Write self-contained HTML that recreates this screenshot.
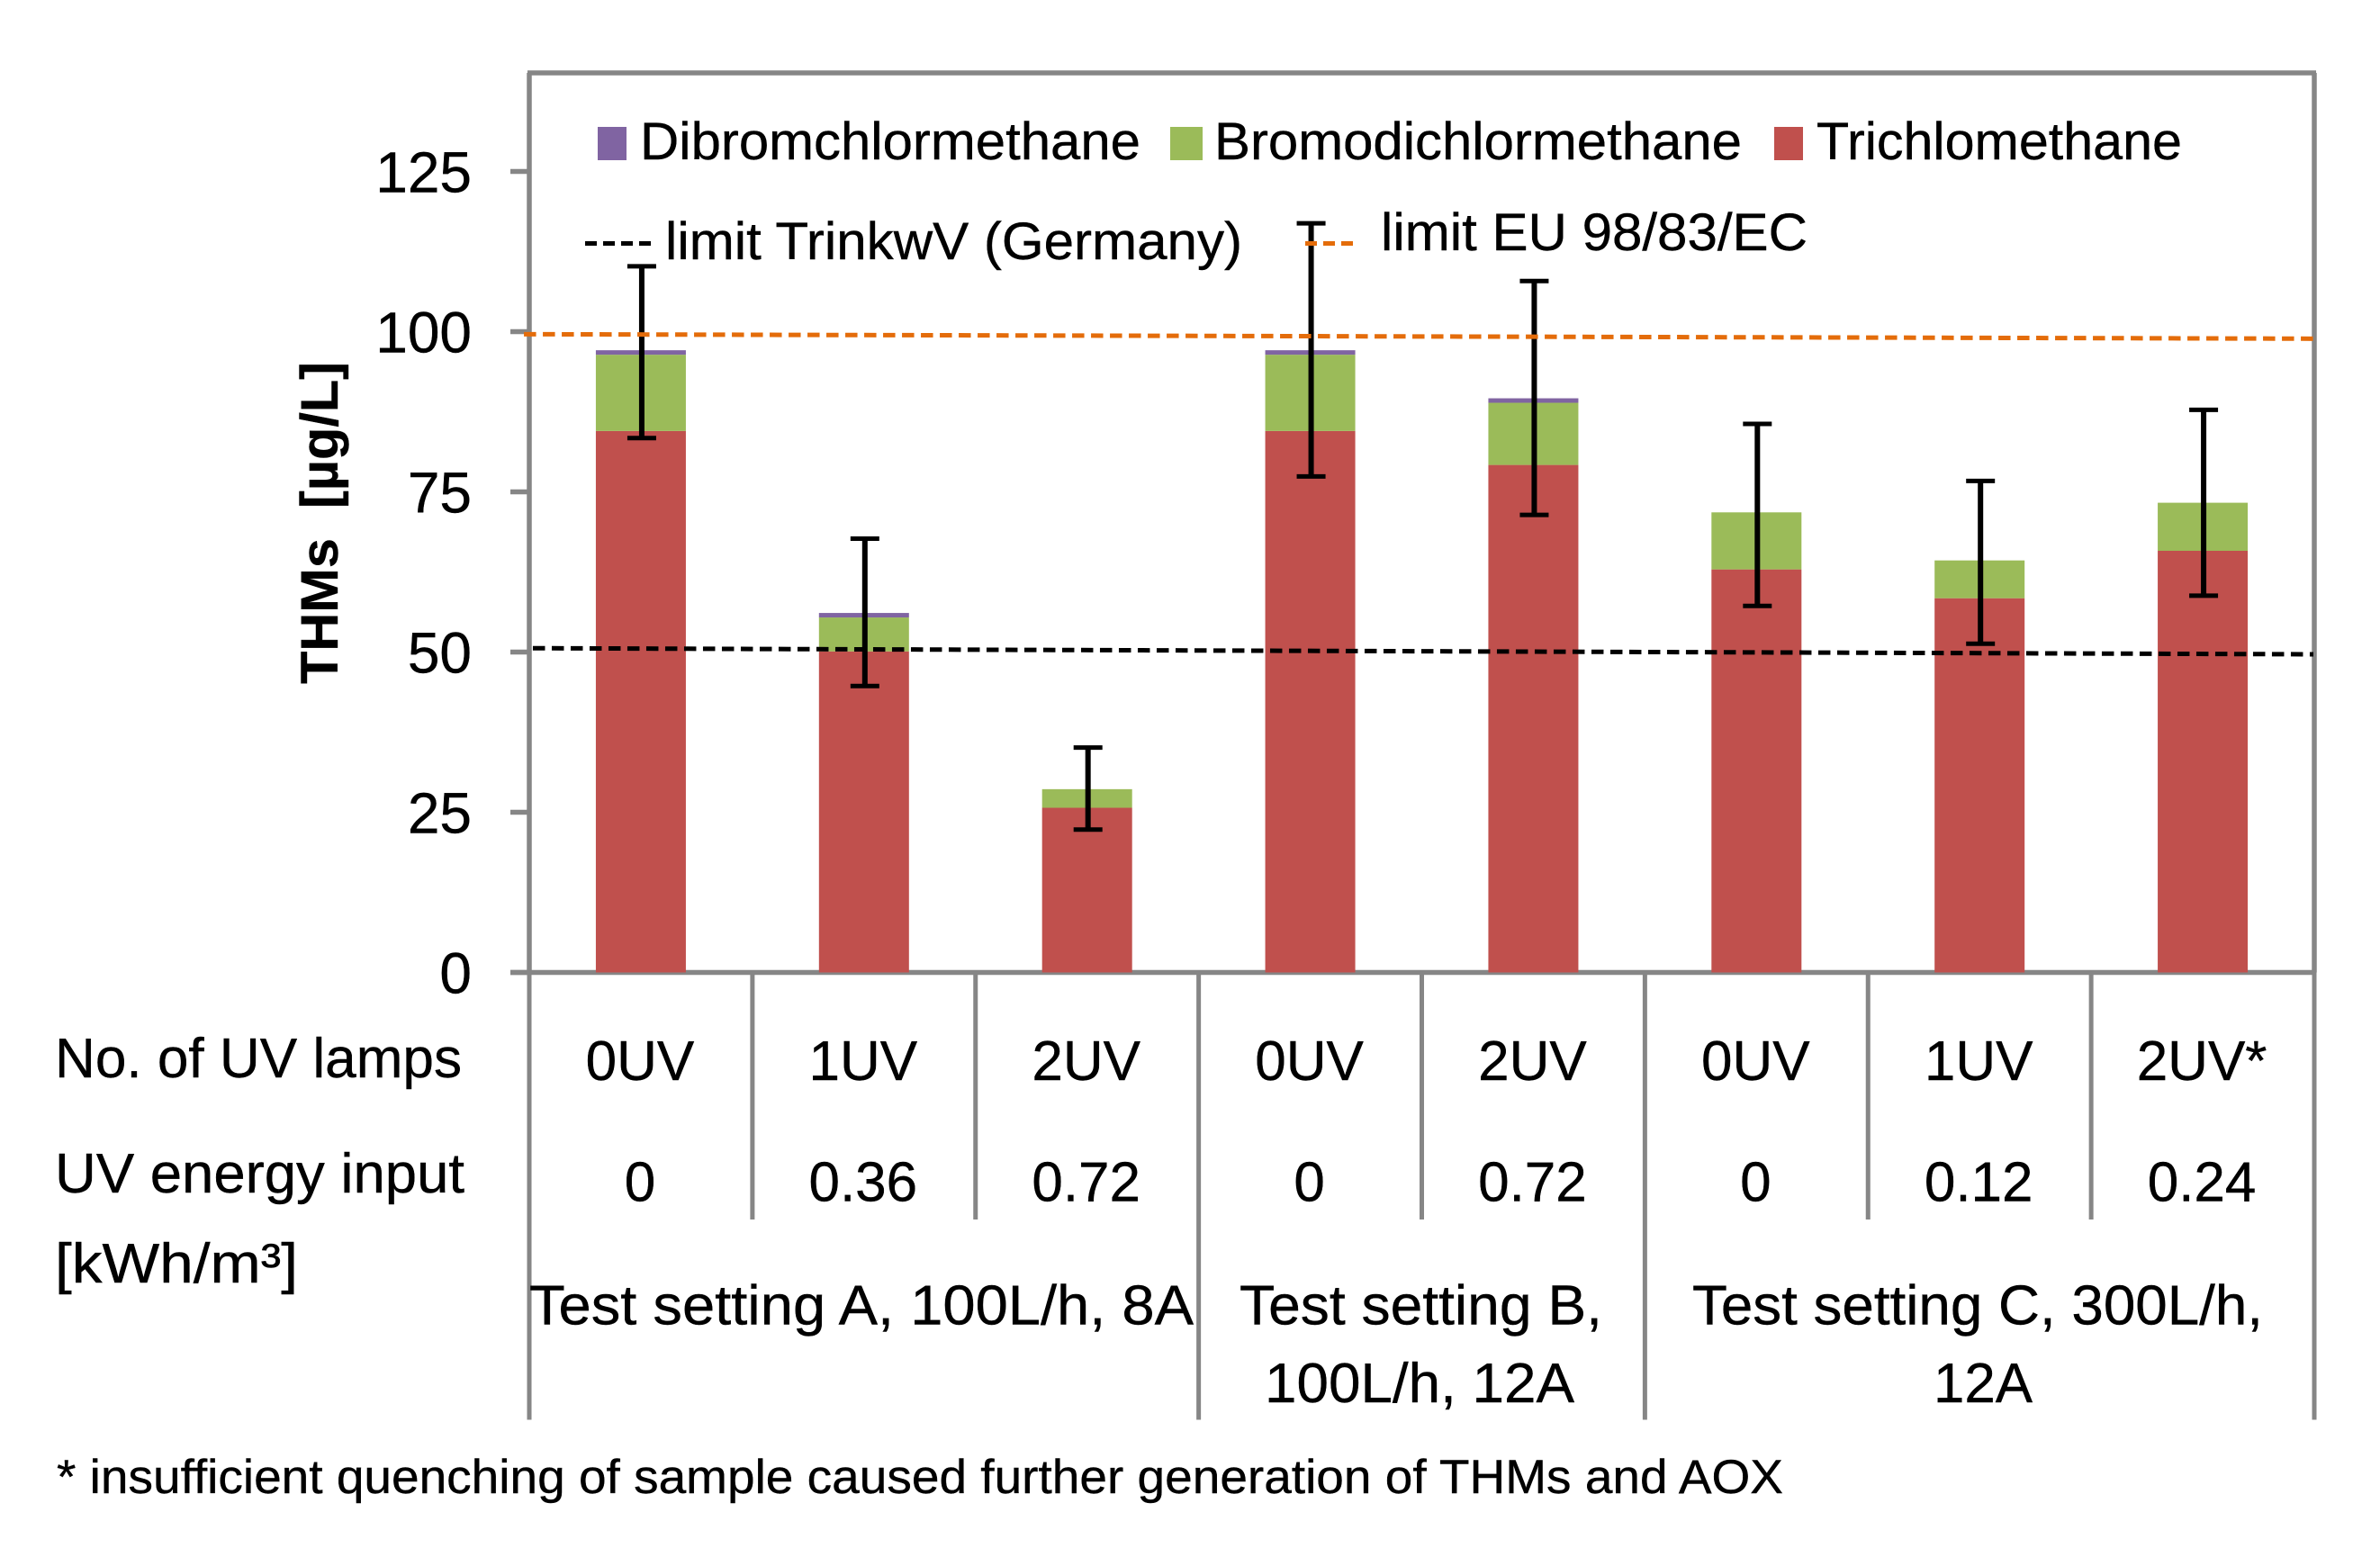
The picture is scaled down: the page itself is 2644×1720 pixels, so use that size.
<!DOCTYPE html>
<html lang="en">
<head>
<meta charset="utf-8">
<title>THMs chart</title>
<style>
html,body{margin:0;padding:0;background:#fff;}
svg{display:block;}
text{font-family:"Liberation Sans",sans-serif;fill:#000;stroke:#000;stroke-width:0.4px;}
</style>
</head>
<body>
<svg id="chart" xmlns="http://www.w3.org/2000/svg" width="2644" height="1720" viewBox="0 0 2644 1720">
  <rect x="0" y="0" width="2644" height="1720" fill="#ffffff"/>
  <g id="axes"></g>
  <g id="bars"></g>
  <g id="errors"></g>
  <g id="limits"></g>
  <g id="ticks"></g>
  <g id="cats"></g>

  <text transform="translate(375,760) rotate(-90)" font-size="58" font-weight="bold" textLength="358" lengthAdjust="spacingAndGlyphs" xml:space="preserve">THMs  [µg/L]</text>

  <g>
    <rect x="664" y="141" width="32" height="37" fill="#8064A2"/>
    <text x="711" y="177" font-size="58" textLength="556" lengthAdjust="spacingAndGlyphs">Dibromchlormethane</text>
    <rect x="1300" y="141" width="36" height="37" fill="#9BBB59"/>
    <text x="1349" y="177" font-size="58" textLength="586" lengthAdjust="spacingAndGlyphs">Bromodichlormethane</text>
    <rect x="1971" y="141" width="32" height="37" fill="#C0504D"/>
    <text x="2018" y="177" font-size="58" textLength="406" lengthAdjust="spacingAndGlyphs">Trichlomethane</text>
    <line x1="650" y1="270.5" x2="724" y2="270.5" stroke="#000" stroke-width="5" stroke-dasharray="13 7"/>
    <text x="739" y="288" font-size="58" textLength="641" lengthAdjust="spacingAndGlyphs">limit TrinkwV (Germany)</text>
    <line x1="1450" y1="270.5" x2="1506" y2="270.5" stroke="#E46C0A" stroke-width="5" stroke-dasharray="13 7"/>
    <text x="1534" y="278" font-size="58" textLength="474" lengthAdjust="spacingAndGlyphs">limit EU 98/83/EC</text>
  </g>

  <text x="61" y="1197" font-size="62" textLength="452" lengthAdjust="spacingAndGlyphs">No. of UV lamps</text>
  <text x="61" y="1325" font-size="62" textLength="455" lengthAdjust="spacingAndGlyphs">UV energy input</text>
  <text x="61" y="1425" font-size="62" textLength="270" lengthAdjust="spacingAndGlyphs">[kWh/m³]</text>

  <text x="588" y="1471.5" font-size="62" textLength="738" lengthAdjust="spacingAndGlyphs">Test setting A, 100L/h, 8A</text>
  <text x="1377" y="1471.5" font-size="62" textLength="403" lengthAdjust="spacingAndGlyphs">Test setting B,</text>
  <text x="1405" y="1558" font-size="62" textLength="344" lengthAdjust="spacingAndGlyphs">100L/h, 12A</text>
  <text x="1880" y="1471.5" font-size="62" textLength="634" lengthAdjust="spacingAndGlyphs">Test setting C, 300L/h,</text>
  <text x="2148" y="1558" font-size="62" textLength="110" lengthAdjust="spacingAndGlyphs">12A</text>

  <text x="63" y="1659" font-size="53" textLength="1918" lengthAdjust="spacingAndGlyphs">* insufficient quenching of sample caused further generation of THMs and AOX</text>
</svg>
<script>
const lampLabels = ['0UV','1UV','2UV','0UV','2UV','0UV','1UV','2UV*'];
const energyLabels = ['0','0.36','0.72','0','0.72','0','0.12','0.24'];
const trichlomethane = [84.5,50.1,25.7,84.5,79.2,62.9,58.4,65.8];
const bromodichlormethane = [11.9,5.3,2.9,11.9,9.7,8.9,5.9,7.5];
const dibromchlormethane = [0.7,0.7,0,0.7,0.7,0,0,0];
const errorUpper = [110.2,67.7,35.1,116.9,107.9,85.6,76.7,87.8];
const errorLower = [83.4,44.7,22.3,77.4,71.4,57.2,51.3,58.8];
const yTicks = [0,25,50,75,100,125];
const groupBoundaries = [0,3,5,8];
const limitEu = [99.6,98.9];
const limitTrinkwv = [50.6,49.65];

const NS = 'http://www.w3.org/2000/svg';
const plotLeft = 588, plotRight = 2571, plotBottom = 1080.5, plotTop = 81;
const pxPerUnit = 7.12;
const catCount = lampLabels.length;
const bandWidth = (plotRight - plotLeft) / catCount;
const barWidth = 100;
function yScale(v){ return plotBottom - v * pxPerUnit; }
function xEdge(i){ return plotLeft + i * bandWidth; }
function xCenter(i){ return xEdge(i + 0.5); }
function make(tag, attrs, parent){
  const el = document.createElementNS(NS, tag);
  for (const k in attrs) el.setAttribute(k, attrs[k]);
  parent.appendChild(el);
  return el;
}
const axes = document.getElementById('axes');
const barsG = document.getElementById('bars');
const errG = document.getElementById('errors');
const limG = document.getElementById('limits');
const ticksG = document.getElementById('ticks');
const catsG = document.getElementById('cats');
const axisColor = '#868686';
const axisStroke = 5.5;

// plot frame
const frameTop = make('line',{x1:plotLeft-2,y1:plotTop,x2:plotRight+2,y2:plotTop,stroke:axisColor,'stroke-width':axisStroke},axes);


const baseLine = make('line',{x1:plotLeft-21,y1:plotBottom,x2:plotRight,y2:plotBottom,stroke:axisColor,'stroke-width':axisStroke},axes);


const leftAxis = make('line',{x1:plotLeft,y1:plotTop,x2:plotLeft,y2:plotBottom,stroke:axisColor,'stroke-width':axisStroke},axes);


const rightAxis = make('line',{x1:plotRight,y1:plotTop,x2:plotRight,y2:plotBottom,stroke:axisColor,'stroke-width':axisStroke},axes);



// category dividers
for (let i = 0; i <= catCount; i++) {
  const full = groupBoundaries.indexOf(i) >= 0;
  const d = make('line',{x1:xEdge(i),y1:plotBottom,x2:xEdge(i),y2:full?1577.5:1355,stroke:axisColor,'stroke-width':axisStroke-0.5},axes);
  
  
}

// y ticks and labels
yTicks.forEach(function(v){
  const t = make('line',{x1:plotLeft-21,y1:yScale(v),x2:plotLeft,y2:yScale(v),stroke:axisColor,'stroke-width':axisStroke},axes);
  
  
  const l = make('text',{x:524,y:yScale(v)+23,'font-size':64,'text-anchor':'end'},ticksG);
  
  
  l.textContent = String(v);
});

// stacked bars
for (let i = 0; i < catCount; i++) {
  const x = xCenter(i) - barWidth / 2;
  const t = trichlomethane[i], b = bromodichlormethane[i], d = dibromchlormethane[i];
  const r1 = make('rect',{x:x,y:yScale(t),width:barWidth,height:yScale(0)-yScale(t),fill:'#C0504D'},barsG);
  
  
  const r2 = make('rect',{x:x,y:yScale(t+b),width:barWidth,height:yScale(t)-yScale(t+b),fill:'#9BBB59'},barsG);
  
  
  if (d > 0) {
    const r3 = make('rect',{x:x,y:yScale(t+b+d),width:barWidth,height:yScale(t+b)-yScale(t+b+d),fill:'#8064A2'},barsG);
    
    
  }
  const cx = xCenter(i) + 1;
  const stem = make('line',{x1:cx,y1:yScale(errorUpper[i]),x2:cx,y2:yScale(errorLower[i]),stroke:'#000','stroke-width':6},errG);
  
  
  const capU = make('line',{x1:cx-16,y1:yScale(errorUpper[i]),x2:cx+16,y2:yScale(errorUpper[i]),stroke:'#000','stroke-width':5},errG);
  
  
  const capL = make('line',{x1:cx-16,y1:yScale(errorLower[i]),x2:cx+16,y2:yScale(errorLower[i]),stroke:'#000','stroke-width':5},errG);
  
  

  const lamp = make('text',{x:xCenter(i)-1,y:1200,'font-size':62,'text-anchor':'middle'},catsG);
  
  
  lamp.textContent = lampLabels[i];
  const en = make('text',{x:xCenter(i)-1,y:1334.5,'font-size':62,'text-anchor':'middle'},catsG);
  
  
  en.textContent = energyLabels[i];
}

// limit lines
const euLine = make('line',{x1:xEdge(-0.024),y1:yScale(limitEu[0]),x2:xEdge(8.02),y2:yScale(limitEu[1]),stroke:'#E46C0A','stroke-width':5,'stroke-dasharray':'13.5 7.5'},limG);


const deLine = make('line',{x1:xEdge(0.016),y1:yScale(limitTrinkwv[0]),x2:xEdge(7.996),y2:yScale(limitTrinkwv[1]),stroke:'#000','stroke-width':5,'stroke-dasharray':'13.5 7.5'},limG);


</script>
</body>
</html>
